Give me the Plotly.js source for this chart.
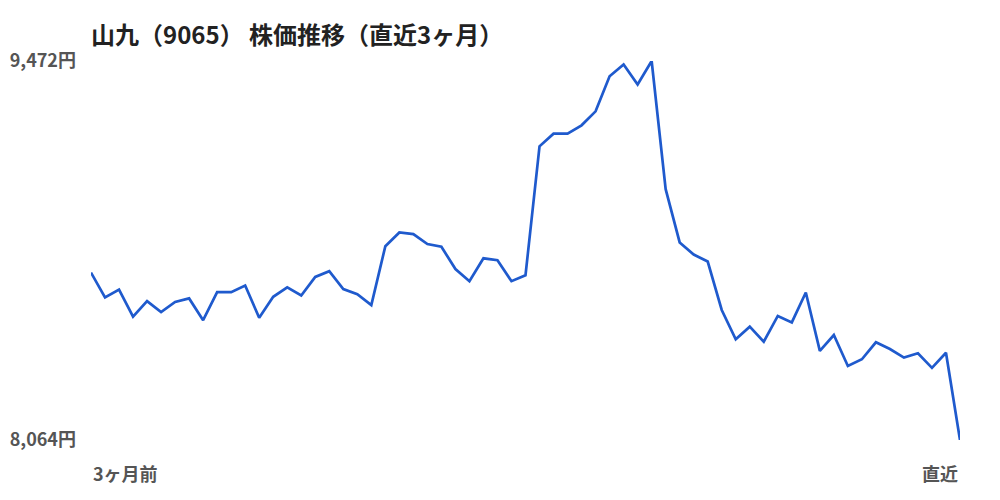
<!DOCTYPE html>
<html>
<head>
<meta charset="utf-8">
<script src="https://cdn.plot.ly/plotly-3.0.1.min.js"></script>
<style>
  html, body { margin: 0; padding: 0; background: #fff; }
  #plot { width: 1000px; height: 500px; }
</style>
</head>
<body>
<div id="plot"></div>
<script>
// 63 trading days, oldest first
var days = [];
for (let i = 0; i < 63; i++) { days.push(i); }

var prices = [
  8686, 8594, 8623, 8522, 8580, 8539, 8577, 8590, 8509, 8613,
  8613, 8638, 8518, 8596, 8631, 8601, 8670, 8691, 8625, 8606,
  8565, 8784, 8835, 8829, 8792, 8782, 8699, 8654, 8739, 8732,
  8654, 8676, 9155, 9202, 9202, 9233, 9285, 9415, 9459, 9385,
  9472, 8996, 8798, 8753, 8727, 8547, 8438, 8485, 8429, 8525,
  8501, 8612, 8395, 8454, 8339, 8364, 8427, 8402, 8370, 8386,
  8332, 8388, 8064
];

var yTickVals = [8064, 9472];
var yTickText = ['8,064円', '9,472円'];
var xLabels = ['3ヶ月前', '直近'];

var fontFamily = '"Noto Sans CJK JP", "Noto Sans", sans-serif';

var data = [{
  x: days,
  y: prices,
  type: 'scatter',
  mode: 'lines',
  line: { color: '#1f5acd', width: 2.7 },
  hoverinfo: 'skip'
}];

var layout = {
  width: 1000,
  height: 500,
  margin: { l: 91, r: 40, t: 61, b: 60 },
  paper_bgcolor: '#fff',
  plot_bgcolor: '#fff',
  showlegend: false,
  title: {
    text: '<b>山九（9065） 株価推移（直近3ヶ月）</b>',
    x: 91 / 1000,
    xanchor: 'left',
    y: 0.928,
    yanchor: 'middle',
    font: { family: fontFamily, size: 24, color: '#222' }
  },
  xaxis: {
    range: [days[0], days[days.length - 1]],
    showgrid: false,
    zeroline: false,
    showline: false,
    showticklabels: false,
    fixedrange: true
  },
  yaxis: {
    range: [yTickVals[0], yTickVals[1]],
    tickvals: yTickVals,
    ticktext: yTickText,
    tickfont: { family: fontFamily, size: 18, color: '#555', weight: 'bold' },
    ticklabelstandoff: 14,
    showgrid: false,
    zeroline: false,
    showline: false,
    fixedrange: true
  },
  annotations: [
    {
      x: days[0], xref: 'x', xanchor: 'left',
      y: -0.087, yref: 'paper', yanchor: 'middle',
      text: '<b>' + xLabels[0] + '</b>',
      showarrow: false,
      font: { family: fontFamily, size: 18, color: '#555' }
    },
    {
      x: days[days.length - 1], xref: 'x', xanchor: 'right',
      y: -0.087, yref: 'paper', yanchor: 'middle',
      text: '<b>' + xLabels[1] + '</b>',
      showarrow: false,
      font: { family: fontFamily, size: 18, color: '#555' }
    }
  ]
};

Plotly.newPlot('plot', data, layout, { displayModeBar: false, staticPlot: true });
</script>
</body>
</html>
